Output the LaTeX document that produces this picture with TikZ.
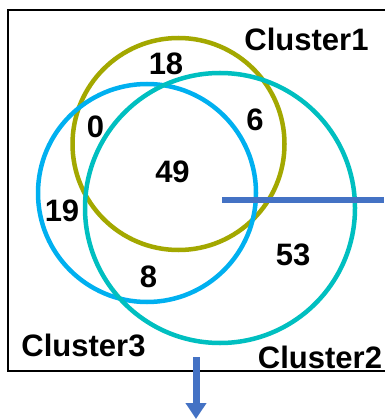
\documentclass[tikz,border=0pt]{standalone}
\usepackage{fontspec}
\setmainfont{Liberation Sans}
\usetikzlibrary{arrows.meta}
\definecolor{olivec}{HTML}{A3A800}
\definecolor{bluec}{HTML}{00B0F0}
\definecolor{tealc}{HTML}{00BFC0}
\definecolor{arrowc}{HTML}{4472C4}
\tikzset{
  ring/.style={line width=4.5pt},
  lbl/.style={inner sep=0pt, font=\fontsize{31}{31}\selectfont\bfseries},
  frame/.style={line width=2pt, black},
  bar/.style={line width=6pt, arrowc},
}
\begin{document}
\begin{tikzpicture}[x=1pt,y=-1pt]
\useasboundingbox (0,0) rectangle (384,419);
\fill[white] (0,0) rectangle (384,419);
% frame
\draw[frame] (390,9.8) -- (7.8,9.8) -- (7.8,371) -- (390,371);
% circles
\draw[ring, olivec] (178.5,144) circle[radius=106];
\draw[ring, bluec] (147,193) circle[radius=109];
\draw[ring, tealc] (220,208) circle[radius=135];
% horizontal bar
\coordinate (hs) at (222,200);
\coordinate (he) at (384,200);
\draw[bar] (hs) -- (he);
% down arrow
\coordinate (as) at (196,357);
\coordinate (ae) at (196,419);
\draw[line width=7pt, arrowc, -{Triangle[length=16pt,width=20pt]}] (as) -- (ae);
% labels
\node[lbl] (c1) at (306.5,39) {Cluster1};
\node[lbl] (c2) at (320,357) {Cluster2};
\node[lbl] (c3) at (83.5,345) {Cluster3};
\node[lbl] (n18) at (166,64) {18};
\node[lbl] (n0) at (95.5,127) {0};
\node[lbl] (n6) at (255,120) {6};
\node[lbl] (n49) at (172.5,172) {49};
\node[lbl] (n19) at (62,211) {19};
\node[lbl] (n53) at (293,255) {53};
\node[lbl] (n8) at (148.5,277) {8};
\end{tikzpicture}
\end{document}
